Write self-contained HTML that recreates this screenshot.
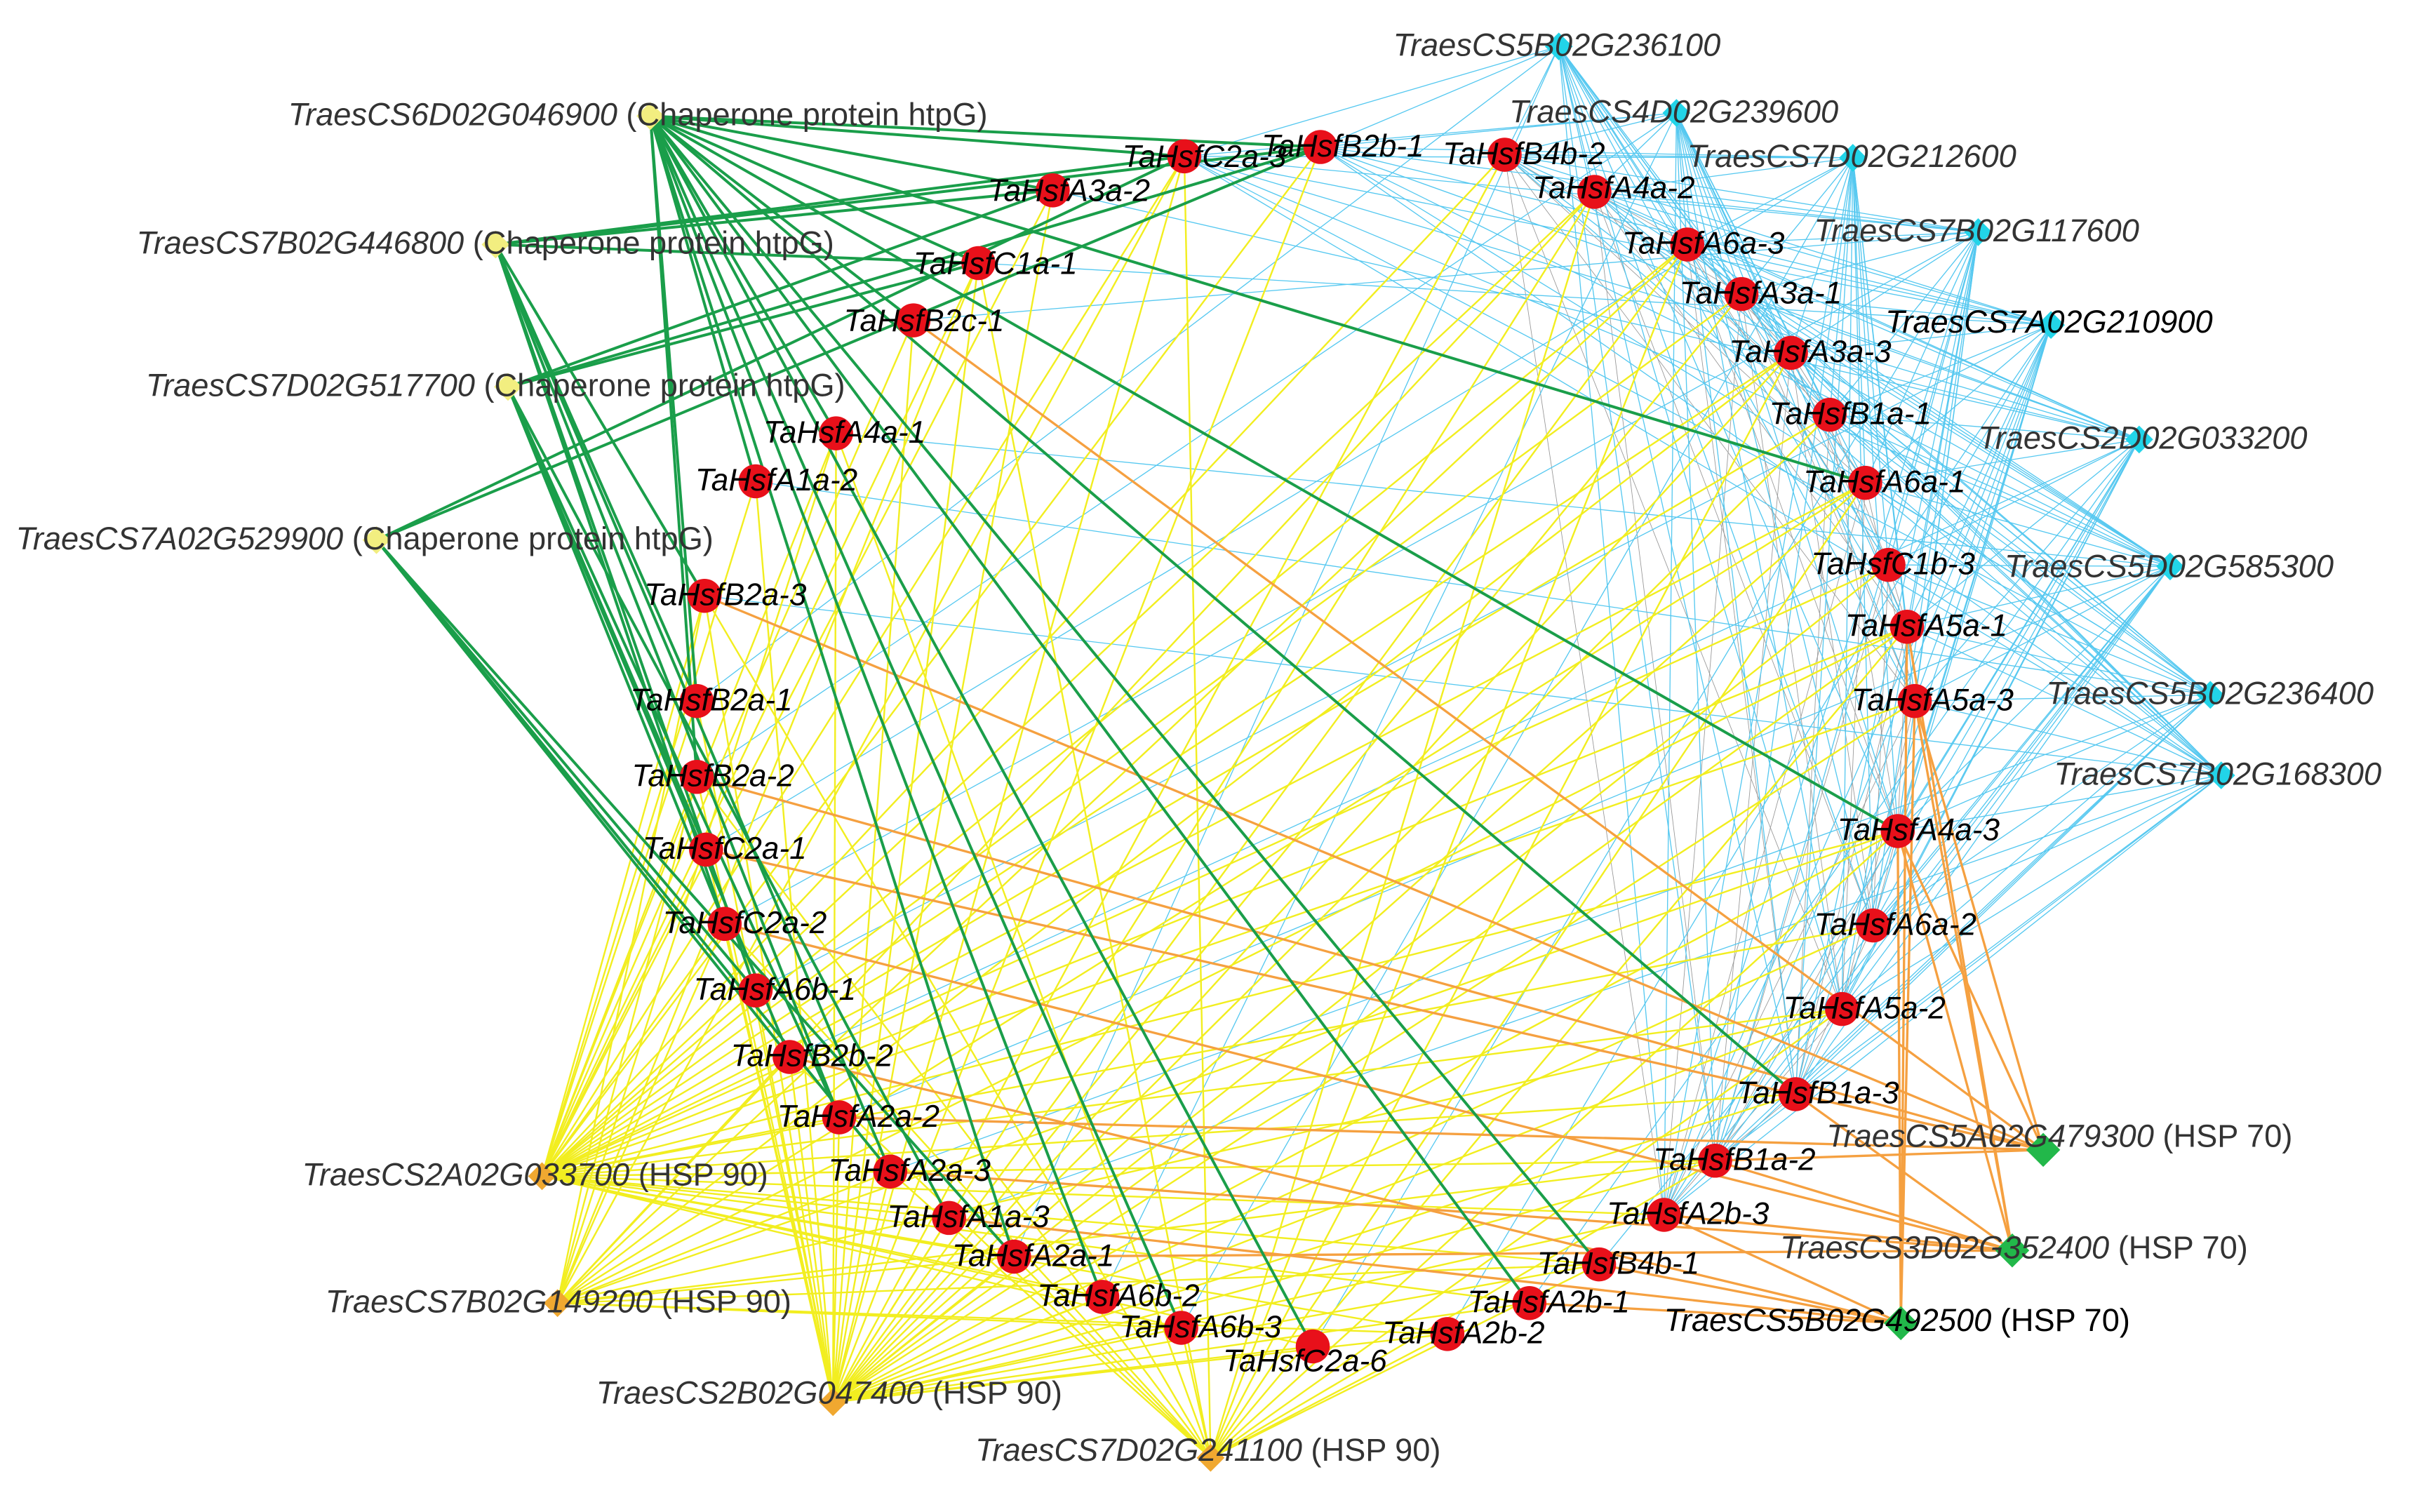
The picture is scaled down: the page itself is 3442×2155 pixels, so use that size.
<!DOCTYPE html>
<html><head><meta charset="utf-8">
<style>
html,body{margin:0;padding:0;background:#fff;}
svg{display:block;}
text{font-family:"Liberation Sans",sans-serif;font-size:20.5px;font-style:italic;}
.r{fill:#000;font-size:20px;}
.d{fill:#333;}
.n{font-style:normal;}
</style></head><body>
<svg id="s" width="3442" height="2155" viewBox="0 0 1560 977" xmlns="http://www.w3.org/2000/svg">
<rect width="1560" height="977" fill="#fff"/>
<g id="edges"></g>
<g id="nodes"></g>
<g id="labels">
<text class="r" x="815" y="101">TaHsfB2b-1</text>
<text class="r" x="725" y="108">TaHsfC2a-3</text>
<text class="r" x="932" y="106">TaHsfB4b-2</text>
<text class="r" x="990" y="128">TaHsfA4a-2</text>
<text class="r" x="638" y="130">TaHsfA3a-2</text>
<text class="r" x="590" y="177">TaHsfC1a-1</text>
<text class="r" x="545" y="214">TaHsfB2c-1</text>
<text class="r" x="1048" y="164">TaHsfA6a-3</text>
<text class="r" x="1085" y="196">TaHsfA3a-1</text>
<text class="r" x="1117" y="234">TaHsfA3a-3</text>
<text class="r" x="1143" y="274">TaHsfB1a-1</text>
<text class="r" x="1165" y="318">TaHsfA6a-1</text>
<text class="r" x="1170" y="371">TaHsfC1b-3</text>
<text class="r" x="1192" y="411">TaHsfA5a-1</text>
<text class="r" x="1196" y="459">TaHsfA5a-3</text>
<text class="r" x="1187" y="543">TaHsfA4a-3</text>
<text class="r" x="1172" y="604">TaHsfA6a-2</text>
<text class="r" x="1152" y="658">TaHsfA5a-2</text>
<text class="r" x="1122" y="713">TaHsfB1a-3</text>
<text class="r" x="1068" y="756">TaHsfB1a-2</text>
<text class="r" x="1038" y="791">TaHsfA2b-3</text>
<text class="r" x="993" y="823">TaHsfB4b-1</text>
<text class="r" x="948" y="848">TaHsfA2b-1</text>
<text class="r" x="893" y="868">TaHsfA2b-2</text>
<text class="r" x="790" y="886">TaHsfC2a-6</text>
<text class="r" x="723" y="864">TaHsfA6b-3</text>
<text class="r" x="670" y="844">TaHsfA6b-2</text>
<text class="r" x="615" y="818">TaHsfA2a-1</text>
<text class="r" x="573" y="793">TaHsfA1a-3</text>
<text class="r" x="535" y="763">TaHsfA2a-3</text>
<text class="r" x="502" y="728">TaHsfA2a-2</text>
<text class="r" x="472" y="689">TaHsfB2b-2</text>
<text class="r" x="448" y="646">TaHsfA6b-1</text>
<text class="r" x="428" y="603">TaHsfC2a-2</text>
<text class="r" x="415" y="555">TaHsfC2a-1</text>
<text class="r" x="408" y="508">TaHsfB2a-2</text>
<text class="r" x="407" y="459">TaHsfB2a-1</text>
<text class="r" x="416" y="391">TaHsfB2a-3</text>
<text class="r" x="449" y="317">TaHsfA1a-2</text>
<text class="r" x="493" y="286">TaHsfA4a-1</text>

<text class="d" x="900" y="36">TraesCS5B02G236100</text>
<text class="d" x="975" y="79">TraesCS4D02G239600</text>
<text class="d" x="1090" y="108">TraesCS7D02G212600</text>
<text class="d" x="1172" y="156">TraesCS7B02G117600</text>
<text class="r" x="1218" y="215" style="font-size:20.5px">TraesCS7A02G210900</text>
<text class="d" x="1278" y="290">TraesCS2D02G033200</text>
<text class="d" x="1295" y="373">TraesCS5D02G585300</text>
<text class="d" x="1322" y="455">TraesCS5B02G236400</text>
<text class="d" x="1327" y="507">TraesCS7B02G168300</text>

<text class="d" x="1180" y="741">TraesCS5A02G479300 <tspan class="n">(HSP 70)</tspan></text>
<text class="d" x="1150" y="813">TraesCS3D02G352400 <tspan class="n">(HSP 70)</tspan></text>
<text class="r" x="1075" y="860" style="font-size:20.5px">TraesCS5B02G492500 <tspan class="n">(HSP 70)</tspan></text>

<text class="d" x="195" y="766">TraesCS2A02G033700 <tspan class="n">(HSP 90)</tspan></text>
<text class="d" x="210" y="848">TraesCS7B02G149200 <tspan class="n">(HSP 90)</tspan></text>
<text class="d" x="385" y="907">TraesCS2B02G047400 <tspan class="n">(HSP 90)</tspan></text>
<text class="d" x="630" y="944">TraesCS7D02G241100 <tspan class="n">(HSP 90)</tspan></text>

<text class="d" x="186" y="81">TraesCS6D02G046900 <tspan class="n">(Chaperone protein htpG)</tspan></text>
<text class="d" x="88" y="164">TraesCS7B02G446800 <tspan class="n">(Chaperone protein htpG)</tspan></text>
<text class="d" x="94" y="256">TraesCS7D02G517700 <tspan class="n">(Chaperone protein htpG)</tspan></text>
<text class="d" x="10" y="355">TraesCS7A02G529900 <tspan class="n">(Chaperone protein htpG)</tspan></text>
</g>
</svg>
<script>
var R=[[853,95],[765,101],[972,100],[1030,124],[680,123],[632,170],[590,207],[1090,158],[1125,190],[1157,228],[1182,268],[1205,312],[1220,365],[1232,405],[1237,453],[1226,537],[1210,598],[1190,652],[1160,707],[1108,750],[1075,785],[1033,817],[988,842],[935,862],[848,870],[763,858],[712,838],[655,812],[613,787],[575,757],[542,722],[510,683],[488,640],[468,597],[456,549],[450,502],[450,453],[455,385],[488,311],[540,280]];
var C=[[1007,30],[1083,73],[1197,102],[1278,150],[1325,210],[1382,284],[1402,366],[1428,449],[1435,501]];
var G=[[1320,743],[1300,808],[1228,855]];
var O=[[350,760],[360,842],[538,906],[782,942]];
var Y=[[420,75],[320,158],[328,250],[243,349]];
var ns="http://www.w3.org/2000/svg",E=document.getElementById('edges'),N=document.getElementById('nodes');
function L(a,b,c,w){var l=document.createElementNS(ns,'line');l.setAttribute('x1',a[0]);l.setAttribute('y1',a[1]);l.setAttribute('x2',b[0]);l.setAttribute('y2',b[1]);l.setAttribute('stroke',c);l.setAttribute('stroke-width',w);E.appendChild(l);}
var right=[2,3,7,8,9,10,11,12,13,14,15,16,17,18,19,20];
for(var i=0;i<right.length;i++)for(var j=i+1;j<right.length;j++)if((i+j)%3==0)L(R[right[i]],R[right[j]],'#999',0.4);
C.forEach(function(c,k){R.forEach(function(r,i){if(right.indexOf(i)>=0||i==0||i==1||(i+k)%9==0)L(c,r,'#55c8f0',0.6);});});
O.forEach(function(o,k){R.forEach(function(r,i){if(k==2||k==0||(i+k)%2==0)L(o,r,'#f2ee20',1.1);});});
var og=[[37,35,34,30,6,18,19,14,15],[33,29,27,18,19,20,14,13,15],[31,28,22,21,20,13,15,14]];
G.forEach(function(g,k){og[k].forEach(function(i){L(g,R[i],'#f5a040',1.5);});});
var gg=[[0,1,4,5,6,11,15,18,21,22,24,25,26,27,38,39,36,35],[0,1,4,5,37,36,33,32,30,29],[0,4,5,34,33,31,30,28],[1,0,32,29,31,27]];
Y.forEach(function(y,k){gg[k].forEach(function(i){L(y,R[i],'#1a9e4a',1.8);});});
function D(p,col,s){var q=document.createElementNS(ns,'polygon');q.setAttribute('points',(p[0])+','+(p[1]-s)+' '+(p[0]+s)+','+p[1]+' '+p[0]+','+(p[1]+s)+' '+(p[0]-s)+','+p[1]);q.setAttribute('fill',col);N.appendChild(q);}
R.forEach(function(r){var c=document.createElementNS(ns,'circle');c.setAttribute('cx',r[0]);c.setAttribute('cy',r[1]);c.setAttribute('r',11);c.setAttribute('fill','#e8101a');N.appendChild(c);});
C.forEach(function(p){D(p,'#22d4e8',9);});
G.forEach(function(p){D(p,'#22b84a',11);});
O.forEach(function(p){D(p,'#f0a830',9);});
Y.forEach(function(p){D(p,'#f2ee80',9);});
</script>
</body></html>
